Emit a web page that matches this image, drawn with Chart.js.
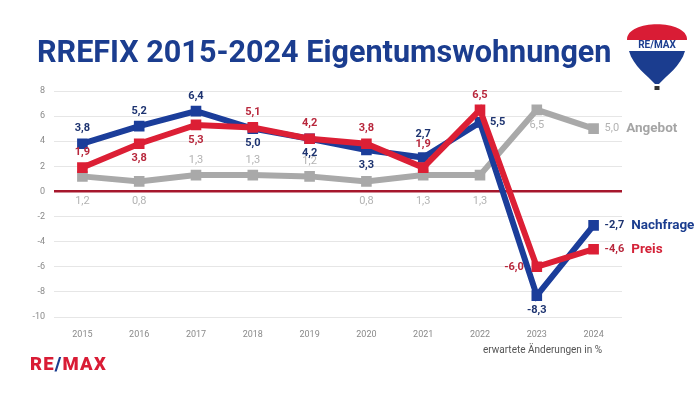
<!DOCTYPE html>
<html>
<head>
<meta charset="utf-8">
<script src="https://cdn.jsdelivr.net/npm/chart.js@4.4.0/dist/chart.umd.min.js"></script>
<style>
  html, body { margin: 0; padding: 0; background: #fff; }
  #wrap { position: relative; width: 700px; height: 393px; overflow: hidden; font-family: Roboto, sans-serif; }
  #chart { position: absolute; left: 0; top: 0; }
  #title {
    position: absolute; left: 37px; top: 32px; white-space: nowrap;
    font: bold 32px Roboto, sans-serif; color: #1b3d8f;
    transform-origin: left top; transform: scaleX(0.955);
  }
  #note { position: absolute; left: 483px; top: 344px; font: 10px Roboto, sans-serif; color: #555; }
  #logo { position: absolute; left: 30px; top: 353px; font: 900 18.5px Roboto, sans-serif; color: #d91c35; letter-spacing: 1.2px; }
  #logo span { color: #1b3d8f; }
  #balloon { position: absolute; left: 622px; top: 16px; }
</style>
</head>
<body>
<div id="wrap">
  <canvas id="chart" width="700" height="393"></canvas>
  <div id="title">RREFIX 2015-2024 Eigentumswohnungen</div>
  <div id="note">erwartete Änderungen in %</div>
  <div id="logo">RE<span>/</span>MAX</div>
  <svg id="balloon" width="70" height="76" viewBox="0 0 70 76">
    <path d="M5 24 C4 3 66 3 65 24 Z" fill="#d91c35"/>
    <path d="M5 24 L65 24 C65 29 64 33 63 35 L7 35 C6 33 5 29 5 24 Z" fill="#fff"/>
    <path d="M7 35 L63 35 C59 50 44 60 37 68 L33 68 C26 60 11 50 7 35 Z" fill="#1b3d8f"/>
    <rect x="32.5" y="70" width="5" height="4" fill="#333"/>
    <text x="35" y="32" text-anchor="middle" font-family="Roboto" font-weight="bold" font-size="10" fill="#1b3d8f">RE/MAX</text>
  </svg>
</div>
<script>
const years = ['2015', '2016', '2017', '2018', '2019', '2020', '2021', '2022', '2023', '2024'];
const nachfrage = [3.8, 5.2, 6.4, 5.0, 4.2, 3.3, 2.7, 5.5, -8.3, -2.7];
const preis = [1.9, 3.8, 5.3, 5.1, 4.2, 3.8, 1.9, 6.5, -6.0, -4.6];
const angebot = [1.2, 0.8, 1.3, 1.3, 1.2, 0.8, 1.3, 1.3, 6.5, 5.0];

// where each value label sits relative to its point
const nachfragePos = ['up', 'up', 'up', 'down', 'down', 'down', 'up2', 'right', 'down', 'end'];
const preisPos = ['up', 'down', 'down', 'up', 'up', 'up', 'up2', 'up', 'left', 'end'];
const angebotPos = ['zero', 'zero', 'up', 'up', 'up', 'zero', 'zero', 'zero', 'down', 'end'];

const blue = '#1b3d9a';
const red = '#dc1f35';
const grey = '#a9a9a9';

function fmt(v) {
    return v.toFixed(1).replace('.', ',');
}

const labelPlugin = {
    id: 'valueLabels',
    afterDatasetsDraw(chart) {
        const ctx = chart.ctx;
        const zeroY = chart.scales.y.getPixelForValue(0);
        chart.data.datasets.forEach((ds, i) => {
            const meta = chart.getDatasetMeta(i);
            meta.data.forEach((pt, j) => {
                const pos = ds.labelPos[j];
                const txt = fmt(ds.data[j]);
                ctx.save();
                ctx.font = (ds.boldLabels ? 'bold ' : '') + '11px Roboto, sans-serif';
                ctx.fillStyle = ds.labelColor;
                ctx.textBaseline = 'middle';
                ctx.textAlign = 'center';
                let x = pt.x, y = pt.y;
                if (pos === 'up') y -= 15;
                else if (pos === 'up2') y -= 23;
                else if (pos === 'down') y += 15;
                else if (pos === 'zero') y = zeroY + 10;
                else if (pos === 'right') { x += 10; ctx.textAlign = 'left'; }
                else if (pos === 'left') { x -= 13; ctx.textAlign = 'right'; }
                else if (pos === 'end') {
                    x += 11;
                    ctx.textAlign = 'left';
                    ctx.fillText(txt, x, y);
                    const w = ctx.measureText(txt).width;
                    ctx.font = 'bold 13.5px Roboto, sans-serif';
                    ctx.fillStyle = ds.nameColor;
                    ctx.fillText(ds.label, x + w + 7, y);
                    ctx.restore();
                    return;
                }
                ctx.fillText(txt, x, y);
                ctx.restore();
            });
        });
    }
};

const ctx = document.getElementById('chart').getContext('2d');
new Chart(ctx, {
    type: 'line',
    data: {
        labels: years,
        datasets: [
            {
                label: 'Preis', data: preis, labelPos: preisPos,
                borderColor: red, backgroundColor: red, labelColor: '#b8273c', nameColor: '#d42238', boldLabels: true,
                order: 1
            },
            {
                label: 'Nachfrage', data: nachfrage, labelPos: nachfragePos,
                borderColor: blue, backgroundColor: blue, labelColor: '#1d3370', nameColor: '#1b3d8f', boldLabels: true,
                order: 2
            },
            {
                label: 'Angebot', data: angebot, labelPos: angebotPos,
                borderColor: grey, backgroundColor: grey, labelColor: '#b3b3b3', nameColor: '#a5a5a5', boldLabels: false,
                order: 3
            }
        ]
    },
    options: {
        responsive: false,
        animation: false,
        layout: { padding: { left: 0, top: 91, right: 78, bottom: 56 } },
        elements: {
            line: { borderWidth: 6, tension: 0 },
            point: { pointStyle: 'rect', radius: 7.5, borderWidth: 0 }
        },
        scales: {
            x: {
                offset: true,
                grid: { display: false },
                border: { display: false },
                ticks: { color: '#8a8a8a', font: { size: 9, family: 'Roboto' }, padding: 4 },
                afterFit(scale) { scale.height = 20; }
            },
            y: {
                min: -10, max: 8,
                grid: {
                    drawTicks: false,
                    color: c => c.tick.value === 0 ? '#a6172c' : '#e6e6e6',
                    lineWidth: c => c.tick.value === 0 ? 2.5 : 1
                },
                border: { display: false },
                ticks: { stepSize: 2, color: '#8a8a8a', font: { size: 9, family: 'Roboto' }, padding: 9 },
                afterFit(scale) { scale.width = 54; }
            }
        },
        plugins: {
            legend: { display: false },
            tooltip: { enabled: false }
        }
    },
    plugins: [labelPlugin]
});
</script>
</body>
</html>
